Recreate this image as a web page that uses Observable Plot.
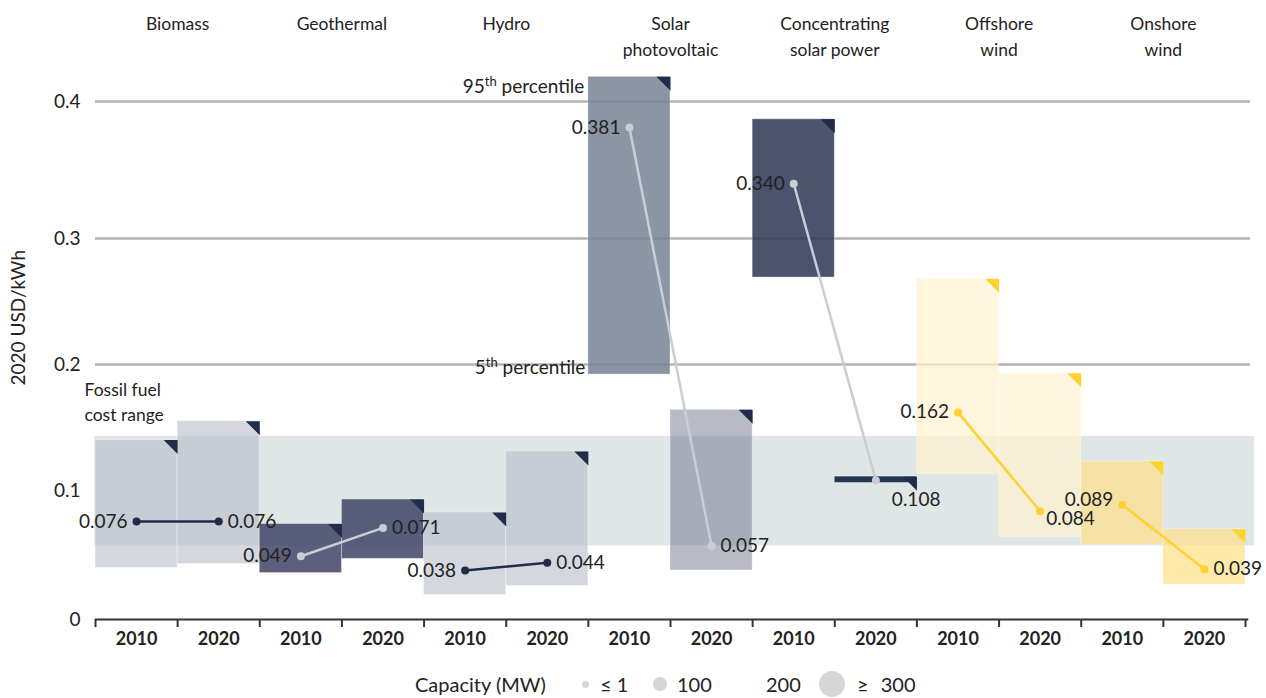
<!DOCTYPE html>
<html><head><meta charset="utf-8">
<script src="https://cdn.jsdelivr.net/npm/d3@7"></script>
<script src="https://cdn.jsdelivr.net/npm/@observablehq/plot@0.6"></script>
<style>
body{margin:0;background:#fff;font-family:Lato,"Open Sans",sans-serif;}
#wrap{position:relative;width:1266px;height:698px;overflow:hidden;}
#legend{position:relative;width:1266px;height:33px;font-size:20px;color:#222;}
#legend span{position:absolute;top:19px;transform:translateY(-50%);white-space:nowrap;line-height:1;}
#legend i{position:absolute;border-radius:50%;background:#d6d6d6;}
</style></head><body>
<div id="wrap"><div id="chart"></div><div id="legend"></div></div>
<script>
// ---- data ----
const techs = ["Biomass", "Geothermal", "Hydro", "Solar\nphotovoltaic", "Concentrating\nsolar power", "Offshore\nwind", "Onshore\nwind"];
const years = ["2010", "2020"];
const p5_2010  = [0.040, 0.036, 0.019, 0.192, 0.269, 0.113, 0.058];
const p95_2010 = [0.140, 0.074, 0.083, 0.418, 0.387, 0.268, 0.123];
const p5_2020  = [0.043, 0.047, 0.026, 0.038, 0.106, 0.064, 0.027];
const p95_2020 = [0.155, 0.093, 0.131, 0.164, 0.111, 0.193, 0.070];
const avg2010  = [0.076, 0.049, 0.038, 0.381, 0.340, 0.162, 0.089];
const avg2020  = [0.076, 0.071, 0.044, 0.057, 0.108, 0.084, 0.039];
const fossilRange = [0.057, 0.143];
const yTicks = [0, 0.1, 0.2, 0.3, 0.4];
const legendLabels = ["≤ 1", "100", "200", "≥ 300"];

// ---- styles ----
const navy = "#1f2d4a", yellow = "#fdd231", lightDot = "#c9cdd6";
const boxFill = ["#b7bcc8","#b7bcc8","#404465","#404465","#b7bcc8","#b7bcc8","#778393","#626681","#2c3554","#243553","#fff2ce","#fff2ce","#fde087","#fde087"];
const boxOpacity = [0.6,0.6,0.85,0.85,0.6,0.6,0.85,0.45,0.85,1,0.7,0.7,0.7,0.7];
const lineColor = [navy, lightDot, navy, lightDot, lightDot, yellow, yellow];
const cornerColor = [navy, navy, navy, navy, navy, yellow, yellow];

// the reference axis has slightly uneven spacing between its gridlines
const warp = d3.scaleLinear().domain(yTicks).range([0, 129, 255, 381, 518]);

const boxes = [];
techs.forEach((t, i) => {
  boxes.push({col: 2*i, lo: p5_2010[i], hi: p95_2010[i], tech: i});
  boxes.push({col: 2*i+1, lo: p5_2020[i], hi: p95_2020[i], tech: i});
});
const links = techs.map((t, i) => ({tech: i, x1: 2*i+0.5, y1: avg2010[i], x2: 2*i+1.5, y2: avg2020[i]}));
const pts = [];
links.forEach(l => { pts.push({tech: l.tech, x: l.x1, y: l.y1, side: 0}); pts.push({tech: l.tech, x: l.x2, y: l.y2, side: 1}); });

const corner = {draw(ctx, size) { const s = Math.sqrt(size / Math.PI); ctx.moveTo(0, 0); ctx.lineTo(-s, 0); ctx.lineTo(0, s); ctx.closePath(); }};
const fmt = d3.format(".3f");
const overrides = {"4-1": {anchor: "start", dx: 16, dy: 19}, "5-1": {dx: 6, dy: 8}, "6-0": {dy: -5}};
const labelMarks = pts.map(p => {
  const o = overrides[p.tech + "-" + p.side] || {};
  const anchor = o.anchor || (p.side === 0 ? "end" : "start");
  const dx = o.dx ?? (p.side === 0 ? -9 : 9);
  return Plot.text([p], {x: "x", y: d => warp(d.y), text: d => fmt(d.y), textAnchor: anchor, dx, dy: o.dy ?? 0, fontSize: 19, fill: "#222"});
});
const cols = d3.range(14);

const chart = Plot.plot({
  width: 1266, height: 665,
  marginLeft: 95, marginRight: 21, marginTop: 101, marginBottom: 46,
  style: {fontFamily: "Lato, 'Open Sans', sans-serif", background: "#fff", overflow: "visible"},
  x: {domain: [0, 14]},
  y: {domain: [0, warp(0.4)]},
  marks: [
    Plot.ruleY(yTicks.filter(d => d > 0), {y: d => warp(d), x1: 0, x2: 14.06, stroke: "#b2b2b2", strokeWidth: 2.5}),
    Plot.rect([fossilRange], {x1: -0.01, x2: 14.11, y1: d => warp(d[0]), y2: d => warp(d[1]), fill: "#dfe7e6"}),
    Plot.rect(boxes, {x1: "col", x2: d => d.col + 1, y1: d => warp(d.lo), y2: d => warp(d.hi), fill: d => boxFill[d.col], fillOpacity: d => boxOpacity[d.col], stroke: "#ffffff", strokeOpacity: 0.35, strokeWidth: 1}),
    Plot.dot(boxes, {x: d => d.col + 1, y: d => warp(d.hi), r: 14, symbol: corner, fill: d => cornerColor[d.tech], stroke: "none"}),
    Plot.ruleY([0], {x1: 0, x2: 14.04, stroke: "#333", strokeWidth: 2}),
    Plot.axisX(d3.range(15), {tickSize: 8, fill: "none", stroke: "#333", strokeWidth: 2, label: null}),
    Plot.axisX(cols.map(c => c + 0.5), {tickSize: 0, tickPadding: 13, tickFormat: d => years[Math.floor(d) % 2], fontSize: 18, fontWeight: 700, fill: "#222", label: null}),
    Plot.axisY(yTicks.map(warp), {tickSize: 0, tickPadding: 15, tickFormat: d => { const v = warp.invert(d); return Math.abs(v) < 1e-9 ? "0" : d3.format(".1f")(v); }, fontSize: 19, fill: "#222", label: null}),
    Plot.text(["2020 USD/kWh"], {frameAnchor: "left", rotate: -90, textAnchor: "start", dx: -77, dy: 25, fontSize: 19, fill: "#222"}),
    Plot.text(techs, {x: (d, i) => 2*i + 1, frameAnchor: "top", lineAnchor: "top", lineHeight: 1.5, dy: -90, fontSize: 17.5, fill: "#222"}),
    Plot.text(["Fossil fuel\ncost range"], {x: 0, y: warp(fossilRange[1]), textAnchor: "start", lineAnchor: "bottom", lineHeight: 1.42, dx: -11, dy: -15, fontSize: 17.5, fill: "#222"}),
    Plot.text(["95th percentile"], {x: 6, y: warp(p95_2010[3]), textAnchor: "end", dx: -4, dy: 10, fontSize: 19, fill: "#222"}),
    Plot.text(["5th percentile"], {x: 6, y: warp(p5_2010[3]), textAnchor: "end", dx: -3, dy: -7, fontSize: 19, fill: "#222"}),
    Plot.link(links, {x1: "x1", y1: d => warp(d.y1), x2: "x2", y2: d => warp(d.y2), stroke: d => lineColor[d.tech], strokeWidth: 2.5}),
    Plot.dot(pts, {x: "x", y: d => warp(d.y), r: 4, fill: d => lineColor[d.tech], stroke: "none"}),
    ...labelMarks
  ]
});
document.getElementById("chart").appendChild(chart);

// superscripts for percentile labels
chart.querySelectorAll("text").forEach(t => {
  const s = t.textContent;
  const m = /^(\d+)th percentile$/.exec(s);
  if (m && t.children.length === 0) {
    t.textContent = "";
    const ns = "http://www.w3.org/2000/svg";
    const a = document.createElementNS(ns, "tspan"); a.textContent = m[1];
    const b = document.createElementNS(ns, "tspan"); b.textContent = "th"; b.setAttribute("font-size", "13"); b.setAttribute("dy", "-7");
    const c = document.createElementNS(ns, "tspan"); c.textContent = " percentile"; c.setAttribute("dy", "7");
    t.append(a, b, c);
  }
});

// legend
const lg = document.getElementById("legend");
const add = (html, css) => { const e = document.createElement(html.tag); if (html.text) e.textContent = html.text; Object.assign(e.style, css); lg.appendChild(e); };
add({tag: "span", text: "Capacity (MW)"}, {left: "415px"});
const circ = [[585, 3.5], [660, 7], [null, 0], [832, 13]];
const txtLeft = [600, 677, 766, 857];
legendLabels.forEach((l, i) => {
  const [cx, r] = circ[i];
  if (cx) add({tag: "i"}, {left: (cx - r) + "px", top: (19 - r) + "px", width: 2*r + "px", height: 2*r + "px"});
  add({tag: "span", text: l}, {left: txtLeft[i] + "px", wordSpacing: i === 3 ? "7px" : "0px"});
});
</script></body></html>
